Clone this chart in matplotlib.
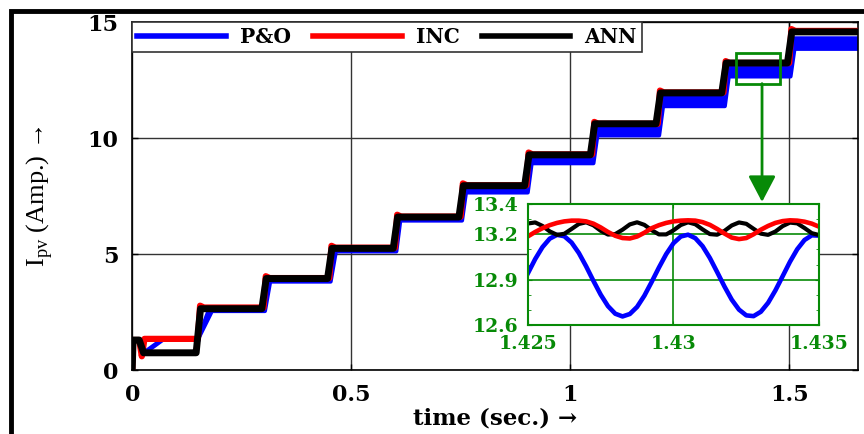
import numpy as np
import matplotlib
matplotlib.use('Agg')
import matplotlib.pyplot as plt
from matplotlib.patches import Rectangle
from matplotlib.lines import Line2D
from matplotlib.ticker import MultipleLocator

# ---------------- data ----------------
step_times = [0.15, 0.30, 0.45, 0.60, 0.75, 0.90, 1.05, 1.20, 1.35, 1.50]
t_end = 1.657
ann_levels = [2.65, 3.95, 5.25, 6.60, 7.95, 9.28, 10.62, 11.95, 13.24, 14.58]
inc_levels = [2.70, 3.97, 5.28, 6.62, 7.97, 9.30, 10.62, 11.97, 13.24, 14.62]
po_low = [2.55, 3.82, 5.12, 6.45, 7.66, 8.92, 10.12, 11.38, 12.66, 13.85]
po_high = [2.62, 3.90, 5.20, 6.52, 7.85, 9.15, 10.45, 11.75, 13.20, 14.30]
po_ramp = [0.032, 0.015, 0.015, 0.012, 0.012, 0.012, 0.012, 0.012, 0.012, 0.012]

# start-up transient
ann_start_t = [0.0, 0.002, 0.016, 0.026, 0.145]
ann_start_v = [0.0, 1.30, 1.30, 0.75, 0.75]
inc_start_t = [0.0, 0.002, 0.016, 0.022, 0.028, 0.15]
inc_start_v = [0.0, 1.30, 1.30, 0.60, 1.35, 1.35]
po_start_t = [0.0, 0.002, 0.015, 0.024, 0.035, 0.07, 0.15]
po_start_v = [0.0, 1.28, 1.28, 0.80, 0.85, 1.33, 1.33]

# zoomed window t = 1.425 ... 1.435 (step 0.00025)
zoom_t = [1.425 + 0.00025 * k for k in range(41)]
zoom_po = [12.942, 13.036, 13.115, 13.171, 13.196, 13.187, 13.145, 13.076, 12.988, 12.892,
           12.801, 12.725, 12.675, 12.657, 12.673, 12.720, 12.794, 12.885, 12.980, 13.069,
           13.141, 13.185, 13.197, 13.174, 13.121, 13.043, 12.950, 12.855, 12.768, 12.702,
           12.664, 12.659, 12.688, 12.747, 12.829, 12.923, 13.018, 13.101, 13.162, 13.193,
           13.191]
zoom_inc = [13.186, 13.215, 13.240, 13.260, 13.275, 13.285, 13.290, 13.290, 13.285, 13.270,
            13.245, 13.215, 13.190, 13.175, 13.172, 13.185, 13.210, 13.240, 13.260, 13.275,
            13.285, 13.290, 13.292, 13.290, 13.280, 13.262, 13.235, 13.205, 13.178, 13.168,
            13.175, 13.200, 13.230, 13.255, 13.275, 13.287, 13.292, 13.290, 13.283, 13.270,
            13.250]
zoom_ann = [13.271, 13.278, 13.255, 13.219, 13.196, 13.203, 13.235, 13.268, 13.279, 13.259,
            13.223, 13.198, 13.201, 13.230, 13.265, 13.279, 13.262, 13.227, 13.199, 13.199,
            13.226, 13.261, 13.279, 13.266, 13.232, 13.201, 13.197, 13.222, 13.258, 13.278,
            13.269, 13.236, 13.204, 13.196, 13.218, 13.254, 13.277, 13.272, 13.241, 13.207,
            13.195]

labels = ['P&O', 'INC', 'ANN']
colors = ['#0000ff', '#ff0000', '#000000']
GREEN = '#078a07'

# ---------------- build polylines ----------------
ann_t, ann_v = list(ann_start_t), list(ann_start_v)
prev = ann_v[-1]
for ts, lv in zip(step_times, ann_levels):
    ann_t += [ts - 0.004, ts + 0.006]
    ann_v += [prev, lv]
    prev = lv
ann_t.append(t_end); ann_v.append(prev)

inc_t, inc_v = list(inc_start_t), list(inc_start_v)
prev = inc_v[-1]
for ts, lv in zip(step_times, inc_levels):
    inc_t += [ts, ts + 0.005, ts + 0.014]
    inc_v += [prev, lv + 0.08, lv]
    prev = lv
inc_t.append(t_end); inc_v.append(prev)

up_t, up_v = [0.15], [1.33]
lo_t, lo_v = [0.15], [1.33]
for i, ts in enumerate(step_times):
    nxt = step_times[i + 1] if i + 1 < len(step_times) else t_end
    r = po_ramp[i]
    up_t += [ts + 0.8 * r, nxt]
    up_v += [po_high[i], po_high[i]]
    lo_t += [ts + r, min(nxt + 0.003, t_end)]
    lo_v += [po_low[i], po_low[i]]

# ---------------- figure ----------------
fig = plt.figure(figsize=(8.64, 4.34), dpi=100)
ax = fig.add_axes([0.153, 0.147, 0.840, 0.802])

SERIF_B = dict(family=['DejaVu Serif'], weight='bold')

# P&O
ax.plot(po_start_t, po_start_v, color=colors[0], lw=3.5, solid_joinstyle='round', zorder=2)
ax.fill(up_t + lo_t[::-1], up_v + lo_v[::-1], color=colors[0], lw=0, zorder=2)
ax.plot(up_t, up_v, color=colors[0], lw=3, solid_joinstyle='round', zorder=2)
ax.plot(lo_t, lo_v, color=colors[0], lw=3, solid_joinstyle='round', zorder=2)
# INC
ax.plot(inc_t, inc_v, color=colors[1], lw=4.5, solid_joinstyle='round', zorder=3)
# ANN
ax.plot(ann_t, ann_v, color=colors[2], lw=5, solid_joinstyle='round', zorder=4)

ax.set_xlim(0, t_end)
ax.set_ylim(0, 15)
ax.set_xticks([0, 0.5, 1, 1.5])
ax.set_xticklabels(['0', '0.5', '1', '1.5'])
ax.set_yticks([0, 5, 10, 15])
ax.grid(True, color='#333333', lw=1)
ax.tick_params(direction='in', length=4, width=1, top=True, right=True)
ax.tick_params(axis='x', pad=10)
ax.tick_params(axis='y', pad=10)
for lab in ax.get_xticklabels() + ax.get_yticklabels():
    lab.set_fontfamily('DejaVu Serif')
    lab.set_fontweight('bold')
    lab.set_fontsize(16)
for s in ax.spines.values():
    s.set_linewidth(1.2)
    s.set_color('black')

ax.set_xlabel('time (sec.) →', fontsize=16.5, labelpad=1, **SERIF_B)
ax.set_ylabel(r'I$_{\mathregular{pv}}$ (Amp.) →', fontsize=19,
              family=['Liberation Serif', 'DejaVu Serif'])
ax.yaxis.set_label_coords(-0.106, 0.5)

handles = [Line2D([], [], color=c, lw=4) for c in colors]
leg = ax.legend(handles, labels, loc='upper left', bbox_to_anchor=(0, 1), ncol=3,
                borderaxespad=0, frameon=True, fancybox=False, handlelength=4.4,
                handletextpad=0.7, columnspacing=1.1, borderpad=0.25,
                prop=dict(family='DejaVu Serif', weight='bold', size=14.5))
leg.get_frame().set_edgecolor('#333333')
leg.get_frame().set_linewidth(1.2)
leg.get_frame().set_alpha(1)
leg.set_zorder(10)

# zoom box + arrow
ax.add_patch(Rectangle((1.379, 12.35), 0.100, 1.30, fill=False, ec=GREEN, lw=2, zorder=6))
ax.annotate('', xy=(1.438, 7.25), xytext=(1.438, 12.35),
            arrowprops=dict(arrowstyle='-|>,head_length=0.8,head_width=0.42',
                            color=GREEN, lw=2, mutation_scale=20, shrinkA=0, shrinkB=0),
            zorder=6)

# ---------------- inset ----------------
ins = fig.add_axes([0.611, 0.251, 0.337, 0.279])
ins.plot(zoom_t, zoom_po, color=colors[0], lw=3.3)
ins.plot(zoom_t, zoom_ann, color=colors[2], lw=3.0)
ins.plot(zoom_t, zoom_inc, color=colors[1], lw=3.3)
ins.set_xlim(1.425, 1.435)
ins.set_ylim(12.6, 13.4)
ins.set_xticks([1.425, 1.43, 1.435])
ins.set_xticklabels(['1.425', '1.43', '1.435'])
ins.set_yticks([12.6, 12.9, 13.2, 13.4])
ins.set_yticklabels(['12.6', '12.9', '13.2', '13.4'])
ins.yaxis.set_minor_locator(MultipleLocator(0.1))
ins.grid(True, color=GREEN, lw=1.2)
ins.tick_params(direction='in', colors=GREEN, length=3, labelcolor=GREEN, right=True, top=True)
ins.tick_params(which='minor', direction='in', colors=GREEN, length=2, right=True)
ins.tick_params(axis='x', pad=7)
ins.tick_params(axis='y', pad=7)
for lab in ins.get_xticklabels() + ins.get_yticklabels():
    lab.set_fontfamily('DejaVu Serif')
    lab.set_fontweight('bold')
    lab.set_fontsize(13.5)
for s in ins.spines.values():
    s.set_color(GREEN)
    s.set_linewidth(1.5)

# outer thick frame (only left and top are inside the picture)
fig.add_artist(Rectangle((10.5 / 864, -0.1), 1.2, 1.1 - 11.5 / 434, transform=fig.transFigure,
                         fill=False, ec='black', lw=3.5, clip_on=False))

fig.savefig('out.png', dpi=100)
